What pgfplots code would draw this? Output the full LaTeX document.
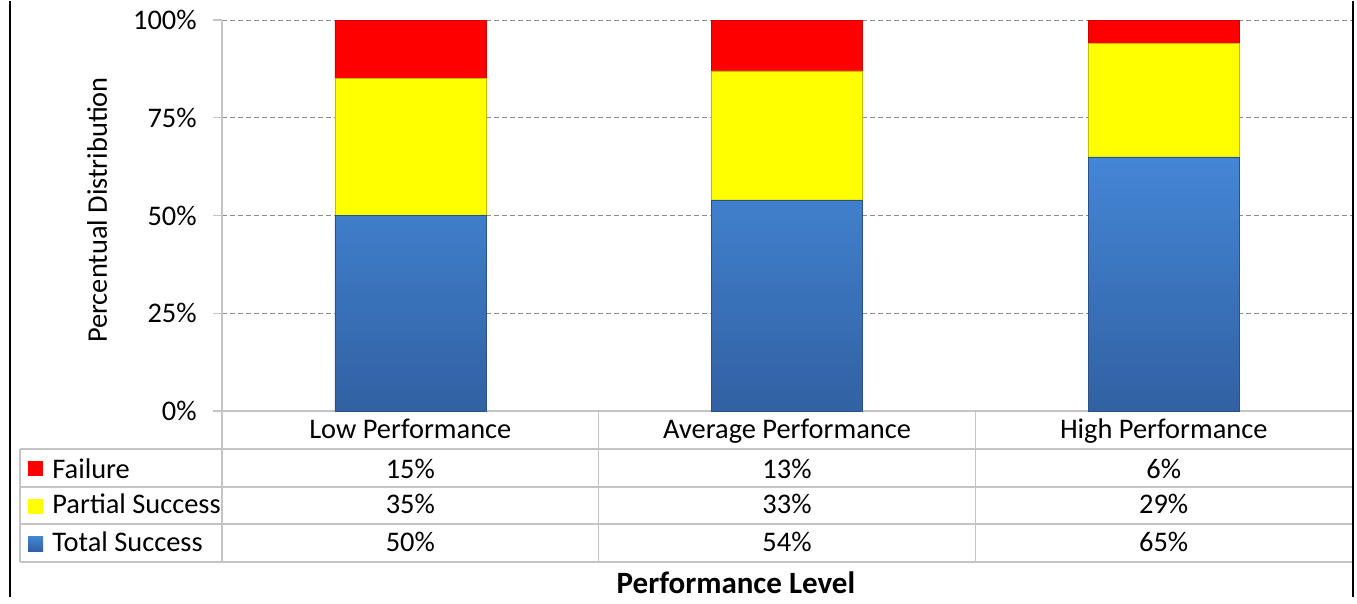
\documentclass[border=0pt]{standalone}
\usepackage{pgfplots}
\pgfplotsset{compat=1.18}
\usepackage{pgfplotstable}
\usepackage{fontspec}
\setmainfont{Carlito}

\definecolor{failred}{RGB}{255,0,0}
\definecolor{partyellow}{RGB}{255,255,0}
\definecolor{blueTop}{RGB}{68,134,214}
\definecolor{blueBot}{RGB}{49,97,162}
\definecolor{tablegray}{RGB}{196,196,196}
\definecolor{gridgray}{RGB}{140,140,140}

% share of each outcome per performance level (percent)
\pgfplotstableread{
x total partial failure
0 50 35 15
1 54 33 13
2 65 29 6
}\perfdata

\begin{document}
\fontsize{14.2}{17}\selectfont
\begin{tikzpicture}[x=0.5pt,y=-0.5pt]
\path (0,0) rectangle (1357,596);
\begin{axis}[
  at={(111pt,-205pt)}, anchor=south west,
  scale only axis, width=565pt, height=195.5pt,
  xmin=-0.5, xmax=2.5, ymin=0, ymax=100,
  ybar stacked, bar width=75.5pt,
  xtick=\empty,
  ytick={0,25,50,75,100},
  yticklabel={\pgfmathprintnumber{\tick}\%},
  /pgf/number format/assume math mode=true,
  yticklabel style={anchor=east, inner sep=0pt, xshift=-8pt},
  axis x line*=bottom, axis y line*=left,
  axis line style={tablegray, line width=0.6pt},
  tick align=outside, major tick length=4.5pt,
  ytick style={tablegray, line width=0.6pt},
  ymajorgrids, grid style={dash pattern=on 2.5pt off 1.5pt, gridgray, line width=0.5pt},
  clip=false,
]
\addplot[draw=blueBot!85!black, line width=0.3pt, top color=blueTop, bottom color=blueBot]
  table[x=x, y=total] {\perfdata};
\addplot[draw=partyellow!75!black, line width=0.3pt, fill=partyellow]
  table[x=x, y=partial] {\perfdata};
\addplot[draw=failred!80!black, line width=0.3pt, fill=failred]
  table[x=x, y=failure] {\perfdata};
\end{axis}

% data table grid
\begin{scope}[tablegray, line width=0.6pt]
  \draw (20,448) -- (1352,448);
  \draw (20,486) -- (1352,486);
  \draw (20,523) -- (1352,523);
  \draw (20,561) -- (1352,561);
  \draw (20,448) -- (20,561);
  \draw (222,410) -- (222,561);
  \draw (598.7,410) -- (598.7,561);
  \draw (975.3,410) -- (975.3,561);
\end{scope}

\begin{scope}[every node/.style={anchor=base, inner sep=0pt}]
% category header
\node at (410.3,437) {Low Performance};
\node at (787,437) {Average Performance};
\node at (1163.7,437) {High Performance};

% row names
\node[anchor=base west] at (52,477) {Failure};
\node[anchor=base west] at (52,512) {Partial Success};
\node[anchor=base west] at (52,550) {Total Success};

% values
\node at (410.3,477) {15\%};
\node at (787,477) {13\%};
\node at (1163.7,477) {6\%};
\node at (410.3,512) {35\%};
\node at (787,512) {33\%};
\node at (1163.7,512) {29\%};
\node at (410.3,550) {50\%};
\node at (787,550) {54\%};
\node at (1163.7,550) {65\%};
\end{scope}

% legend keys
\fill[failred] (28,460) rectangle (43,475);
\fill[partyellow] (28,497.5) rectangle (43,512.5);
\shade[top color=blueTop, bottom color=blueBot] (28,535) rectangle (43,550);

% titles
\node[rotate=90] at (97,209) {Percentual Distribution};
\node[font=\bfseries\fontsize{15.5}{18}\selectfont] at (736,582) {Performance Level};

% outer frame
\draw[black, line width=1pt] (10,0) -- (10,596);
\draw[black, line width=1pt] (1353,0) -- (1353,596);
\end{tikzpicture}
\end{document}
